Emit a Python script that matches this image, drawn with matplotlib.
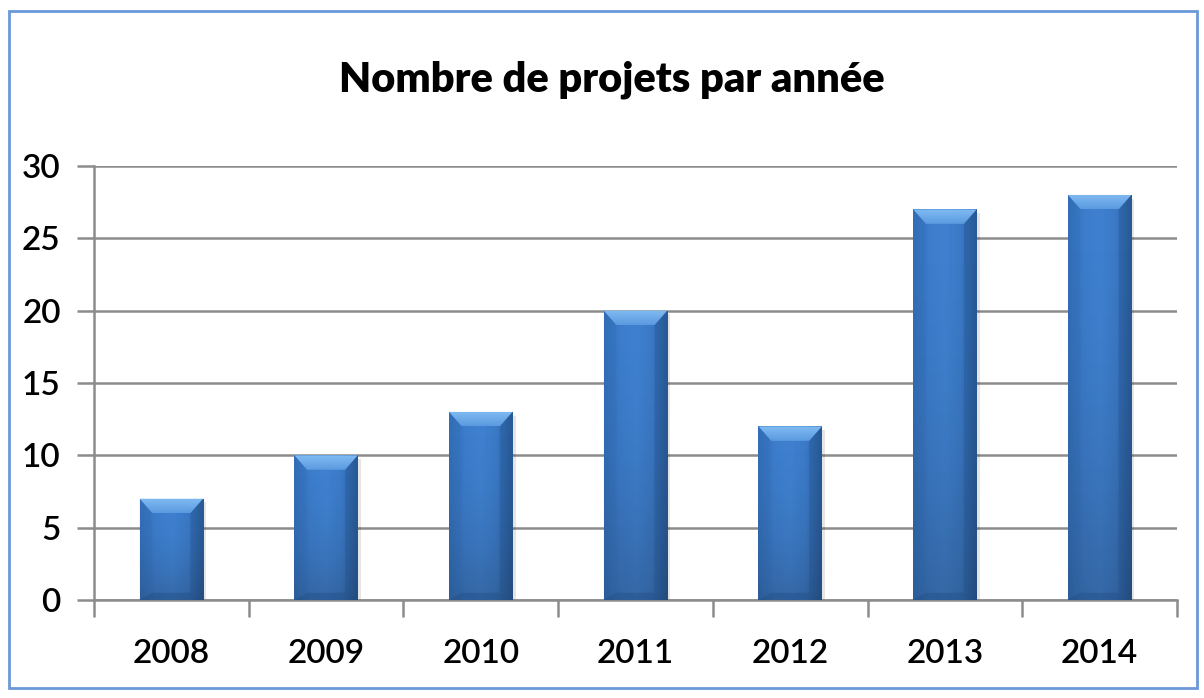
import matplotlib
matplotlib.use("Agg")
import matplotlib.pyplot as plt
import numpy as np
from matplotlib.patches import Rectangle, Polygon
from matplotlib.colors import LinearSegmentedColormap

years = ["2008", "2009", "2010", "2011", "2012", "2013", "2014"]
projects = [7, 10, 13, 20, 12, 27, 28]
yticks = [0, 5, 10, 15, 20, 25, 30]
title = "Nombre de projets par année"

plt.rcParams['font.family'] = ['Lato', 'DejaVu Sans']

fig = plt.figure(figsize=(12.04, 6.98), dpi=100)
ax = fig.add_axes([94/1204, 1 - 600/698, (1177-94)/1204, (600-166)/698])

# figure border
fig.patches.append(Rectangle((9/1204, 10/698), 1188/1204, 677/698, transform=fig.transFigure,
                             fill=False, edgecolor='#6a98d8', linewidth=2))

x = np.arange(len(years))
width = 0.41
bars = ax.bar(x, projects, width=width, color='#3c7cca', edgecolor='none', zorder=3)

cmap = LinearSegmentedColormap.from_list('bar', ['#336fb8', '#3c7ccb', '#3f81d0', '#3a79c6', '#2b5d9c'])
grad = np.linspace(0, 1, 256).reshape(1, -1)
bevel_cmap = LinearSegmentedColormap.from_list('bev', ['#5b9ae0', '#80bbf2'])
for b, v in zip(bars, projects):
    x0 = b.get_x(); w = b.get_width()
    # soft shadow
    sh = Rectangle((x0 + 0.02, -0.25), w, v, facecolor='#000000', alpha=0.10, edgecolor='none', zorder=2.5)
    ax.add_patch(sh)
    im = ax.imshow(grad, extent=[x0, x0 + w, 0, v], aspect='auto', cmap=cmap, zorder=3.5)
    im.set_clip_path(b)
    # vertical darkening toward bottom
    vg = np.linspace(0, 1, 64)
    shade = np.zeros((64, 1, 4)); shade[..., 0:3] = 0.08; shade[:, 0, 3] = 0.22 * (1 - vg) ** 2
    im2 = ax.imshow(shade, extent=[x0, x0 + w, 0, v], aspect='auto', zorder=3.6, origin='lower')
    im2.set_clip_path(b)
    # top bevel
    bh = 1.0
    bw = w * 0.2
    top = Polygon([[x0, v], [x0 + w, v], [x0 + w - bw, v - bh], [x0 + bw, v - bh]],
                  closed=True, facecolor='none', edgecolor='none', zorder=3.7)
    ax.add_patch(top)
    vgt = np.linspace(0, 1, 32).reshape(-1, 1)
    imt = ax.imshow(vgt, extent=[x0, x0 + w, v - bh, v], aspect='auto', cmap=bevel_cmap,
                    origin='lower', zorder=3.7)
    imt.set_clip_path(top)
    left = Polygon([[x0, v], [x0 + bw, v - bh], [x0 + bw, 0.5], [x0, 0]],
                   closed=True, facecolor='#2f67ad', edgecolor='none', alpha=0.18, zorder=3.7)
    ax.add_patch(left)
    right = Polygon([[x0 + w, v], [x0 + w - bw, v - bh], [x0 + w - bw, 0.5], [x0 + w, 0]],
                    closed=True, facecolor='#1f4a80', edgecolor='none', alpha=0.25, zorder=3.7)
    ax.add_patch(right)
    bot = Polygon([[x0, 0], [x0 + w, 0], [x0 + w - bw, 0.5], [x0 + bw, 0.5]],
                  closed=True, facecolor='#1f4a80', edgecolor='none', alpha=0.35, zorder=3.7)
    ax.add_patch(bot)

ax.set_xlim(-0.5, len(years) - 0.5)
ax.set_ylim(0, 30)
ax.set_yticks(yticks)
ax.set_yticklabels([str(t) for t in yticks], fontsize=24, fontweight='semibold')
ax.set_xticks(x)
ax.set_xticklabels(years, fontsize=24, fontweight='semibold')
ax.set_xticks(np.arange(len(years) + 1) - 0.5, minor=True)
ax.tick_params(axis='x', which='major', length=0, pad=28)
ax.tick_params(axis='x', which='minor', length=12, color='#8c8c8c', width=1.8)
ax.tick_params(axis='y', length=12, color='#8c8c8c', width=1.8, pad=12)
ax.grid(axis='y', color='#8c8c8c', linewidth=1.8, zorder=0)
for s in ['top', 'right']:
    ax.spines[s].set_visible(False)
ax.spines['left'].set_color('#8c8c8c'); ax.spines['left'].set_linewidth(1.8)
ax.spines['bottom'].set_color('#8c8c8c'); ax.spines['bottom'].set_linewidth(1.8)

fig.text(612/1204, 1 - 80/698, title, ha='center', va='center', fontsize=30, fontweight='heavy')

fig.savefig('out.png', dpi=100)
